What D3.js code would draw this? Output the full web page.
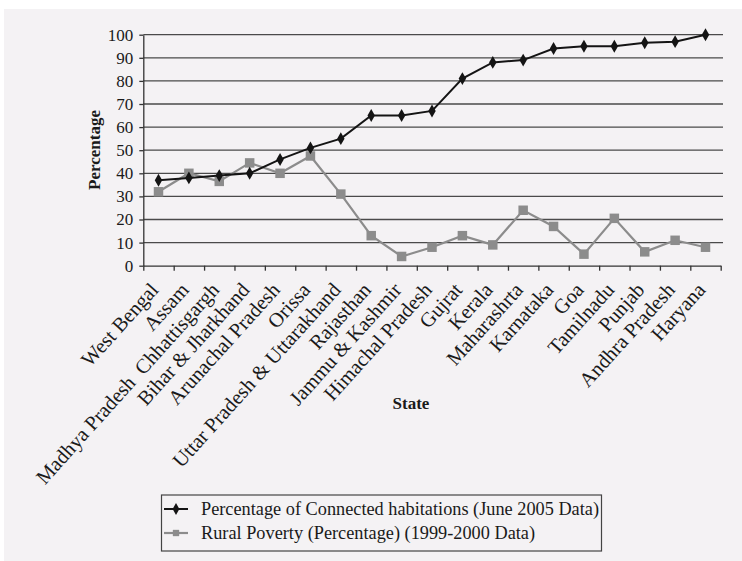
<!DOCTYPE html>
<html>
<head>
<meta charset="utf-8">
<script src="https://cdn.jsdelivr.net/npm/d3@7"></script>
<style>
  body { margin: 0; background: #ffffff; }
  svg text { font-family: "Liberation Serif", "Times New Roman", serif; fill: #1a1a1a; }
</style>
</head>
<body>
<svg id="chart" width="742" height="561"></svg>
<script>
// Indian states, ordered by share of connected habitations
const states = [
  "West Bengal", "Assam", "Madhya Pradesh  Chhattisgargh", "Bihar & Jharkhand",
  "Arunachal Pradesh", "Orissa", "Uttar Pradesh & Uttarakhand", "Rajasthan",
  "Jammu & Kashmir", "Himachal Pradesh", "Gujrat", "Kerala", "Maharashrta",
  "Karnataka", "Goa", "Tamilnadu", "Punjab", "Andhra Pradesh", "Haryana"
];
// Percentage of connected habitations (June 2005)
const connected = [37, 38, 39, 40, 46, 51, 55, 65, 65, 67, 81, 88, 89, 94, 95, 95, 96.5, 97, 100];
// Rural poverty percentage (1999-2000)
const poverty = [32, 40, 36.5, 44.5, 40, 47.5, 31, 13, 4, 8, 13, 9, 24, 17, 5, 20.5, 6, 11, 8];
const yTicks = [0, 10, 20, 30, 40, 50, 60, 70, 80, 90, 100];
const seriesNames = [
  "Percentage of Connected habitations (June 2005 Data)",
  "Rural Poverty (Percentage) (1999-2000 Data)"
];

const svg = d3.select("#chart");

// page background
svg.append("rect")
  .attr("x", 4).attr("y", 9).attr("width", 738).attr("height", 552)
  .attr("fill", "#f4f2f4");

const x = d3.scaleBand().domain(states).range([143.3, 720.7]);
const xEdge = d3.scaleLinear().domain([0, states.length]).range(x.range());
const y = d3.scaleLinear().domain([0, 100]).range([265.7, 34.7]);
const cx = d => x(d) + x.bandwidth() / 2;

// horizontal gridlines
svg.append("g").selectAll("line")
  .data(yTicks.filter(t => t > 0))
  .join("line")
  .attr("x1", 143.3).attr("x2", 723)
  .attr("y1", d => y(d)).attr("y2", d => y(d))
  .attr("stroke", "#4a4a4a").attr("stroke-width", 1.3);

// y axis
const yAxis = svg.append("g")
  .attr("transform", "translate(143.3,0)")
  .call(d3.axisLeft(y).tickValues(yTicks).tickSize(4).tickPadding(6).tickSizeOuter(0));
yAxis.select(".domain").attr("stroke", "#333").attr("stroke-width", 1.3);
yAxis.selectAll(".tick line").attr("stroke", "#333").attr("stroke-width", 1.3);
yAxis.selectAll(".tick text")
  .style("font-family", "'Liberation Serif', serif")
  .style("font-size", "17px").attr("fill", "#1a1a1a");

// x axis with ticks between categories
const xAxis = svg.append("g")
  .attr("transform", `translate(0,${y(0)})`)
  .call(d3.axisBottom(xEdge).ticks(states.length).tickFormat("").tickSize(5).tickSizeOuter(0));
xAxis.select(".domain").attr("stroke", "#333").attr("stroke-width", 1.3);
xAxis.selectAll(".tick line").attr("stroke", "#333").attr("stroke-width", 1.3);

// rotated state labels
svg.append("g").selectAll("text")
  .data(states)
  .join("text")
  .attr("transform", d => `translate(${cx(d) + 1},${y(0) + 25}) rotate(-48)`)
  .attr("text-anchor", "end")
  .style("font-size", "20.5px")
  .style("white-space", "pre")
  .text(d => d);

// axis titles
svg.append("text")
  .attr("x", 411).attr("y", 409)
  .attr("text-anchor", "middle")
  .style("font-size", "17px").style("font-weight", "bold")
  .text("State");
svg.append("text")
  .attr("transform", "translate(100,150) rotate(-90)")
  .attr("text-anchor", "middle")
  .style("font-size", "17px").style("font-weight", "bold")
  .text("Percentage");

// series lines and markers
const line = d3.line().x((d, i) => cx(states[i])).y(d => y(d));
const povColor = "#8c8c8c";
const conColor = "#141414";

svg.append("path").datum(poverty)
  .attr("d", line).attr("fill", "none")
  .attr("stroke", povColor).attr("stroke-width", 2.2);
svg.append("g").selectAll("path")
  .data(poverty)
  .join("path")
  .attr("transform", (d, i) => `translate(${cx(states[i])},${y(d)})`)
  .attr("d", d3.symbol(d3.symbolSquare, 90))
  .attr("fill", povColor);

svg.append("path").datum(connected)
  .attr("d", line).attr("fill", "none")
  .attr("stroke", conColor).attr("stroke-width", 2);
svg.append("g").selectAll("path")
  .data(connected)
  .join("path")
  .attr("transform", (d, i) => `translate(${cx(states[i])},${y(d)})`)
  .attr("d", d3.symbol(d3.symbolDiamond, 48))
  .attr("fill", conColor);

// legend
const legend = svg.append("g");
legend.append("rect")
  .attr("x", 161.5).attr("y", 495).attr("width", 440).attr("height", 56)
  .attr("fill", "none").attr("stroke", "#444").attr("stroke-width", 1.2);
const legendItems = [
  { name: seriesNames[0], color: conColor, symbol: d3.symbolDiamond, size: 40, w: 2 },
  { name: seriesNames[1], color: povColor, symbol: d3.symbolSquare, size: 40, w: 2.2 }
];
legendItems.forEach((it, i) => {
  const ly = 509 + i * 24;
  legend.append("line")
    .attr("x1", 164).attr("x2", 188).attr("y1", ly).attr("y2", ly)
    .attr("stroke", it.color).attr("stroke-width", it.w);
  legend.append("path")
    .attr("transform", `translate(176,${ly})`)
    .attr("d", d3.symbol(it.symbol, it.size))
    .attr("fill", it.color);
  legend.append("text")
    .attr("x", 201).attr("y", ly + 6)
    .style("font-size", "18.3px")
    .text(it.name);
});
</script>
</body>
</html>
